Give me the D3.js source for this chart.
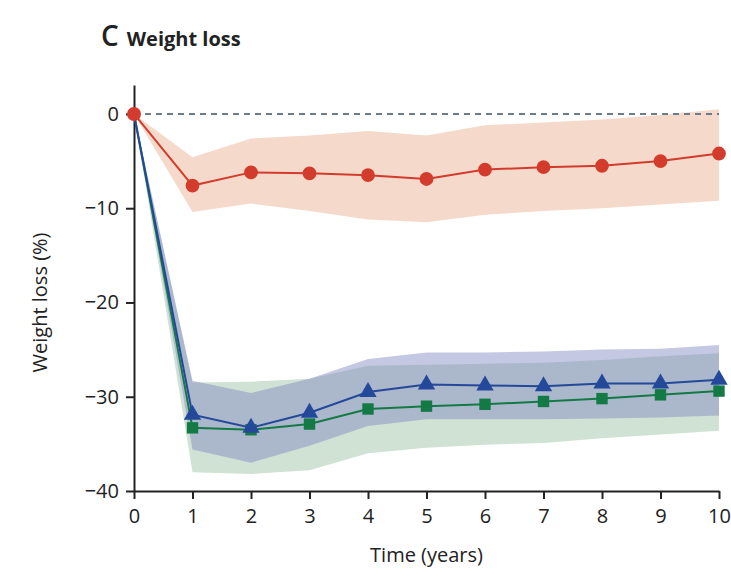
<!DOCTYPE html>
<html>
<head>
<meta charset="utf-8">
<script src="https://cdn.jsdelivr.net/npm/d3@7"></script>
<style>
  body { margin: 0; background: #fff; }
  text { font-family: "Open Sans", "Noto Sans", sans-serif; fill: #222; }
</style>
</head>
<body>
<div id="chart"></div>
<script>
// Data
const years = [0, 1, 2, 3, 4, 5, 6, 7, 8, 9, 10];

const redMean  = [0, -7.6, -6.2, -6.3, -6.5, -6.9, -5.9, -5.65, -5.5, -5.0, -4.2];
const redUpper = [0, -4.6, -2.6, -2.3, -1.8, -2.3, -1.2, -0.9, -0.6, -0.1, 0.5];
const redLower = [0, -10.4, -9.5, -10.3, -11.2, -11.5, -10.7, -10.3, -10.0, -9.6, -9.2];

const blueMean  = [0, -31.9, -33.3, -31.7, -29.5, -28.7, -28.8, -28.9, -28.6, -28.6, -28.2];
const blueUpper = [0, -28.3, -29.6, -28.1, -26.0, -25.3, -25.3, -25.2, -25.0, -24.9, -24.5];
const blueLower = [0, -35.6, -37.0, -35.2, -33.1, -32.4, -32.4, -32.4, -32.3, -32.2, -32.0];

const greenMean  = [0, -33.3, -33.5, -32.9, -31.3, -31.0, -30.8, -30.5, -30.2, -29.8, -29.4];
const greenUpper = [0, -28.5, -28.4, -28.1, -26.7, -26.6, -26.5, -26.4, -26.1, -25.7, -25.4];
const greenLower = [0, -38.0, -38.2, -37.8, -36.0, -35.4, -35.1, -34.9, -34.4, -34.0, -33.6];

const yTicks = [0, -10, -20, -30, -40];

const width = 731, height = 580;
const margin = { top: 85, right: 12, bottom: 89, left: 134 };

const svg = d3.select("#chart").append("svg")
    .attr("width", width)
    .attr("height", height);

const x = d3.scaleLinear().domain([0, 10]).range([margin.left, 719]);
const y = d3.scaleLinear().domain([-40, 3.07]).range([491, margin.top]);

// title
const title = svg.append("text").attr("x", 101).attr("y", 46);
title.append("tspan").attr("font-size", 28).attr("font-weight", 600).text("C");
title.append("tspan").attr("dx", 8).attr("font-size", 20).attr("font-weight", 700).text("Weight loss");

// bands
const area = (upper, lower) => d3.area()
    .x((d, i) => x(years[i]))
    .y0((d, i) => y(lower[i]))
    .y1((d, i) => y(upper[i]));

svg.append("path").attr("d", area(redUpper, redLower)(years))
    .attr("fill", "#f5dacc");
svg.append("path").attr("d", area(greenUpper, greenLower)(years))
    .attr("fill", "#d0e2d4");
svg.append("path").attr("d", area(blueUpper, blueLower)(years))
    .attr("fill", "#7e86c2").attr("fill-opacity", 0.45);

// zero reference line
svg.append("line")
    .attr("x1", x(0)).attr("x2", x(10))
    .attr("y1", y(0)).attr("y2", y(0))
    .attr("stroke", "#6b7d8a").attr("stroke-width", 2)
    .attr("stroke-dasharray", "6,5");

// axes
const yAxis = svg.append("g")
    .attr("transform", `translate(${margin.left},0)`)
    .call(d3.axisLeft(y).tickValues(yTicks).tickSize(8).tickPadding(7).tickSizeOuter(0));
const xAxis = svg.append("g")
    .attr("transform", `translate(0,${y(-40)})`)
    .call(d3.axisBottom(x).ticks(10).tickSize(8).tickPadding(10).tickSizeOuter(0));

[xAxis, yAxis].forEach(g => {
    g.select(".domain").attr("stroke", "#222").attr("stroke-width", 2);
    g.selectAll(".tick line").attr("stroke", "#222").attr("stroke-width", 2);
    g.selectAll(".tick text").attr("font-size", 20).attr("font-family", "Open Sans, sans-serif").attr("fill", "#222");
});

// axis titles
svg.append("text")
    .attr("x", x(5)).attr("y", 562)
    .attr("text-anchor", "middle").attr("font-size", 20)
    .text("Time (years)");
svg.append("text")
    .attr("transform", `translate(47,${y(-20)}) rotate(-90)`)
    .attr("text-anchor", "middle").attr("font-size", 20)
    .text("Weight loss (%)");

// lines + markers
const line = d3.line().x((d, i) => x(years[i])).y(d => y(d));

function series(values, color, symbolType, size) {
    svg.append("path").attr("d", line(values))
        .attr("fill", "none").attr("stroke", color).attr("stroke-width", 2);
    svg.append("g").selectAll("path")
        .data(values.slice(1))
        .join("path")
        .attr("transform", (d, i) => `translate(${x(years[i + 1])},${y(d)})`)
        .attr("d", d3.symbol().type(symbolType).size(size))
        .attr("fill", color);
}

series(greenMean, "#137a45", d3.symbolSquare, 130);
series(blueMean, "#24489a", d3.symbolTriangle, 130);
series(redMean, "#d33c2c", d3.symbolCircle, 150);

// red marker at origin
svg.append("circle")
    .attr("cx", x(0)).attr("cy", y(0)).attr("r", 7)
    .attr("fill", "#d33c2c");
</script>
</body>
</html>
